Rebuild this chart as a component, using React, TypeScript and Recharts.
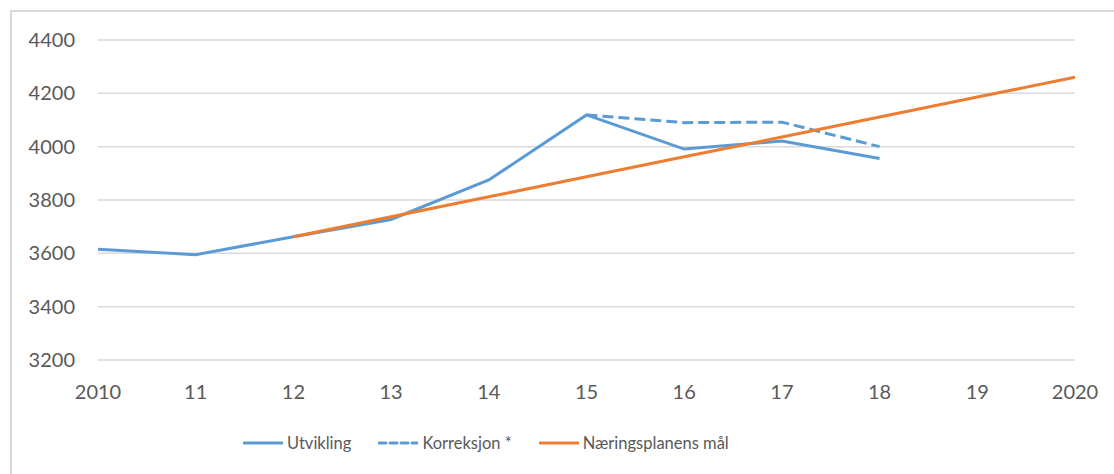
import { LineChart, Line, XAxis, YAxis, CartesianGrid, Legend } from 'recharts';

// Kategorier (år) og verdier lest av figuren
const years = ['2010', '11', '12', '13', '14', '15', '16', '17', '18', '19', '2020'];
const utvikling = [3615, 3595, 3662, 3727, 3875, 4119, 3991, 4021, 3956, null, null];
const korreksjon = [null, null, null, null, null, 4119, 4090, 4092, 4000, null, null];
const maal = [null, null, 3662, 3737, 3812, 3887, 3962, 4036, 4111, 4186, 4260];
const yTicks = [3200, 3400, 3600, 3800, 4000, 4200, 4400];
const seriesOrder = ['utvikling', 'korreksjon', 'maal'];

const BLUE = '#5B9BD5';
const ORANGE = '#ED7D31';
const TEXT = '#595959';
const GRID = '#D9D9D9';
const FONT = 'Lato, "Open Sans", sans-serif';

const data = years.map((year, i) => ({
  year,
  utvikling: utvikling[i],
  korreksjon: korreksjon[i],
  maal: maal[i],
}));

function LegendContent({ payload }: { payload?: Array<any> }) {
  if (!payload) return null;
  const items = [...payload].sort(
    (a, b) => seriesOrder.indexOf(a.dataKey) - seriesOrder.indexOf(b.dataKey)
  );
  return (
    <div style={{ display: 'flex', alignItems: 'center', height: 30, fontFamily: FONT, fontSize: 16.5, color: TEXT }}>
      {items.map((p, i) => (
        <div key={i} style={{ display: 'flex', alignItems: 'center', marginRight: 27 }}>
          <svg width={40} height={6} style={{ marginRight: 4 }}>
            <line
              x1={1}
              y1={3}
              x2={39}
              y2={3}
              stroke={p.color}
              strokeWidth={3}
              strokeLinecap="round"
              strokeDasharray={p.dataKey === 'korreksjon' ? '7 4' : undefined}
            />
          </svg>
          <span>{p.value}</span>
        </div>
      ))}
    </div>
  );
}

export default function App() {
  return (
    <div style={{ position: 'absolute', left: 0, top: 0, width: 1114, height: 474, background: '#fff', overflow: 'hidden' }}>
      <div
        style={{
          position: 'absolute',
          left: 10,
          top: 10,
          width: 1104,
          height: 464,
          borderLeft: `2px solid ${GRID}`,
          borderTop: `2px solid ${GRID}`,
          boxSizing: 'border-box',
        }}
      />
      <div style={{ position: 'absolute', left: 0, top: 0 }}>
        <LineChart width={1114} height={474} data={data} margin={{ top: 40, right: 39, left: 0, bottom: 54 }}>
          <CartesianGrid vertical={false} stroke={GRID} strokeWidth={1.5} />
          <XAxis
            dataKey="year"
            axisLine={false}
            tickLine={false}
            tickSize={0}
            tickMargin={25}
            height={30}
            interval={0}
            tick={{ fill: TEXT, fontSize: 20, fontFamily: FONT }}
          />
          <YAxis
            domain={[3200, 4400]}
            ticks={yTicks}
            axisLine={false}
            tickLine={false}
            tickSize={0}
            tickMargin={23}
            width={98}
            tick={{ fill: TEXT, fontSize: 20, fontFamily: FONT }}
          />
          <Legend
            verticalAlign="bottom"
            height={30}
            content={<LegendContent />}
            wrapperStyle={{ left: 243, top: 428, width: 'auto', bottom: 'auto' }}
          />
          <Line
            type="linear"
            dataKey="utvikling"
            name="Utvikling"
            stroke={BLUE}
            strokeWidth={3}
            dot={false}
            isAnimationActive={false}
          />
          <Line
            type="linear"
            dataKey="korreksjon"
            name="Korreksjon *"
            stroke={BLUE}
            strokeWidth={3}
            strokeDasharray="11 5"
            dot={false}
            isAnimationActive={false}
          />
          <Line
            type="linear"
            dataKey="maal"
            name="Næringsplanens mål"
            stroke={ORANGE}
            strokeWidth={3}
            dot={false}
            isAnimationActive={false}
          />
        </LineChart>
      </div>
    </div>
  );
}
